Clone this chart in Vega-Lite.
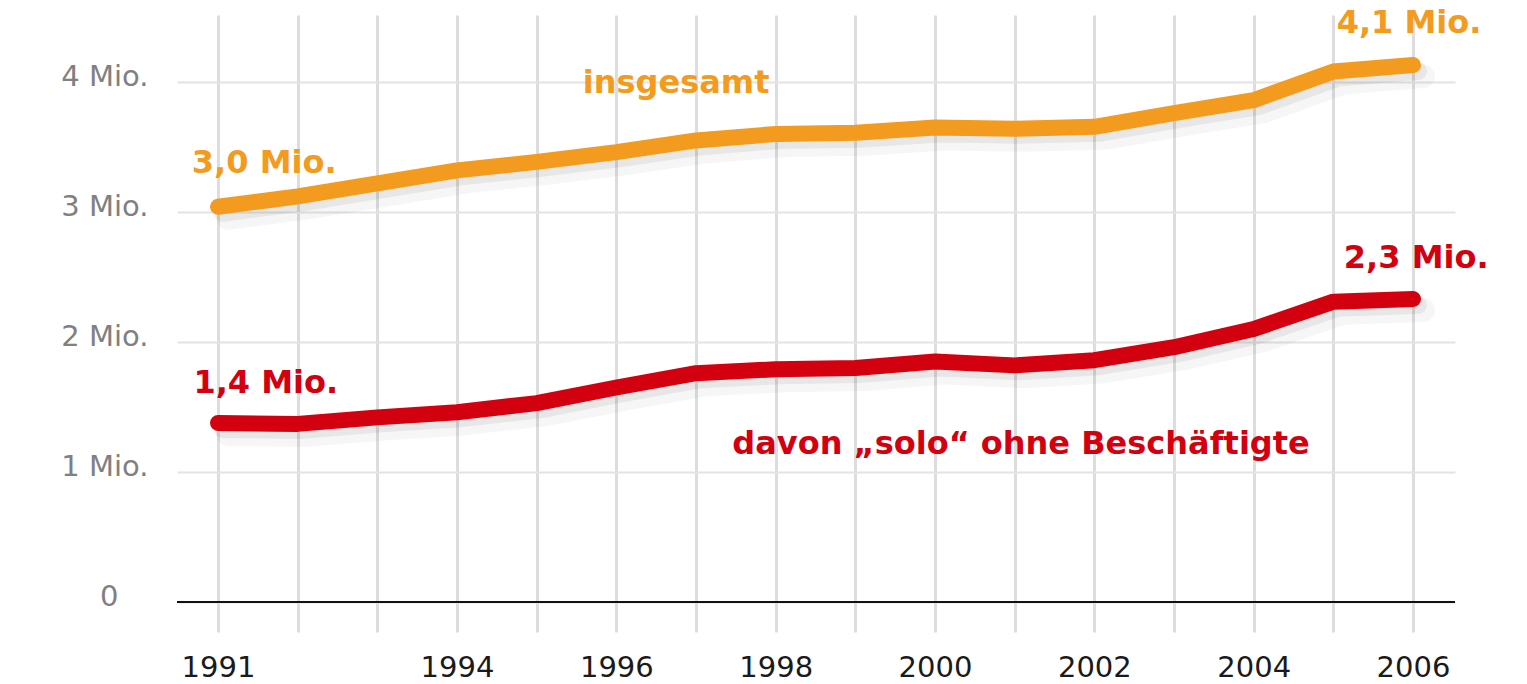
{
  "$schema": "https://vega.github.io/schema/vega-lite/v6.json",
  "width": 1278,
  "height": 617,
  "autosize": {"type": "none"},
  "padding": {"left": 177, "top": 15, "right": 72, "bottom": 52},
  "background": "#ffffff",
  "config": {
    "view": {"stroke": null},
    "axis": {"domain": false, "ticks": false, "tickSize": 0, "title": null}
  },
  "datasets": {
    "series": [
      {"year": 1991, "series": "insgesamt", "value": 3.04},
      {"year": 1992, "series": "insgesamt", "value": 3.12},
      {"year": 1993, "series": "insgesamt", "value": 3.22},
      {"year": 1994, "series": "insgesamt", "value": 3.32},
      {"year": 1995, "series": "insgesamt", "value": 3.385},
      {"year": 1996, "series": "insgesamt", "value": 3.46},
      {"year": 1997, "series": "insgesamt", "value": 3.55},
      {"year": 1998, "series": "insgesamt", "value": 3.6},
      {"year": 1999, "series": "insgesamt", "value": 3.61},
      {"year": 2000, "series": "insgesamt", "value": 3.65},
      {"year": 2001, "series": "insgesamt", "value": 3.64},
      {"year": 2002, "series": "insgesamt", "value": 3.655},
      {"year": 2003, "series": "insgesamt", "value": 3.76},
      {"year": 2004, "series": "insgesamt", "value": 3.86},
      {"year": 2005, "series": "insgesamt", "value": 4.08},
      {"year": 2006, "series": "insgesamt", "value": 4.13},
      {"year": 1991, "series": "solo", "value": 1.377},
      {"year": 1992, "series": "solo", "value": 1.37},
      {"year": 1993, "series": "solo", "value": 1.42},
      {"year": 1994, "series": "solo", "value": 1.46},
      {"year": 1995, "series": "solo", "value": 1.53},
      {"year": 1996, "series": "solo", "value": 1.65},
      {"year": 1997, "series": "solo", "value": 1.76},
      {"year": 1998, "series": "solo", "value": 1.79},
      {"year": 1999, "series": "solo", "value": 1.8},
      {"year": 2000, "series": "solo", "value": 1.85},
      {"year": 2001, "series": "solo", "value": 1.82},
      {"year": 2002, "series": "solo", "value": 1.86},
      {"year": 2003, "series": "solo", "value": 1.96},
      {"year": 2004, "series": "solo", "value": 2.1},
      {"year": 2005, "series": "solo", "value": 2.31},
      {"year": 2006, "series": "solo", "value": 2.33}
    ],
    "labels": [
      {"year": 1991.58, "value": 3.3, "text": "3,0 Mio.", "series": "insgesamt"},
      {"year": 1996.75, "value": 3.915, "text": "insgesamt", "series": "insgesamt"},
      {"year": 2005.95, "value": 4.377, "text": "4,1 Mio.", "series": "insgesamt"},
      {"year": 1991.6, "value": 1.608, "text": "1,4 Mio.", "series": "solo"},
      {"year": 2006.04, "value": 2.569, "text": "2,3 Mio.", "series": "solo"},
      {"year": 2001.08, "value": 1.138, "text": "davon „solo“ ohne Beschäftigte", "series": "solo"}
    ]
  },
  "layer": [
    {
      "data": {"name": "series"},
      "mark": {"type": "line", "stroke": "#000000", "strokeWidth": 24, "opacity": 0.035, "xOffset": 10, "yOffset": 11, "strokeCap": "round", "strokeJoin": "round"},
      "encoding": {
        "x": {"field": "year", "type": "quantitative", "scale": {"domain": [1990.485, 2006.527], "nice": false, "zero": false},
          "axis": {"values": [1991, 1992, 1993, 1994, 1995, 1996, 1997, 1998, 1999, 2000, 2001, 2002, 2003, 2004, 2005, 2006],
            "format": "d", "labelExpr": "datum.value == 1991 || (datum.value % 2 == 0 && datum.value != 1992) ? datum.label : ''",
            "grid": true, "gridColor": "#dddddd", "gridWidth": 3, "labelFont": "DejaVu Sans", "labelFontSize": 29,
            "labelColor": "#1a1a1a", "labelPadding": 21, "labelOverlap": false, "labelFlush": false}},
        "y": {"field": "value", "type": "quantitative", "scale": {"domain": [-0.2308, 4.515], "nice": false, "zero": false},
          "axis": {"values": [0, 1, 2, 3, 4], "labelExpr": "datum.value == 0 ? '0' : datum.value + ' Mio.'",
            "grid": true, "gridColor": "#e3e3e3", "gridWidth": 2, "labelFont": "DejaVu Sans", "labelFontSize": 29,
            "labelColor": "#808080", "labelAlign": "right", "labelBaseline": "alphabetic", "labelOffset": 4,
            "labelPadding": {"condition": {"test": "datum.value == 0", "value": 59}, "value": 29}}},
        "detail": {"field": "series", "type": "nominal"}
      }
    },
    {
      "data": {"name": "series"},
      "mark": {"type": "line", "stroke": "#000000", "strokeWidth": 18, "opacity": 0.06, "xOffset": 5, "yOffset": 6, "strokeCap": "round", "strokeJoin": "round"},
      "encoding": {
        "x": {"field": "year", "type": "quantitative"},
        "y": {"field": "value", "type": "quantitative"},
        "detail": {"field": "series", "type": "nominal"}
      }
    },
    {
      "data": {"values": [{}]},
      "mark": {"type": "rule", "color": "#111111", "strokeWidth": 2},
      "encoding": {
        "x": {"datum": 1990.485, "type": "quantitative"},
        "x2": {"datum": 2006.527},
        "y": {"datum": 0, "type": "quantitative"}
      }
    },
    {
      "data": {"name": "series"},
      "mark": {"type": "line", "strokeWidth": 16, "strokeCap": "round", "strokeJoin": "round"},
      "encoding": {
        "x": {"field": "year", "type": "quantitative"},
        "y": {"field": "value", "type": "quantitative"},
        "color": {"field": "series", "type": "nominal", "scale": {"domain": ["insgesamt", "solo"], "range": ["#f29b1e", "#d3000f"]}, "legend": null}
      }
    },
    {
      "data": {"name": "labels"},
      "mark": {"type": "text", "font": "DejaVu Sans", "fontWeight": "bold", "fontSize": 32, "align": "center", "baseline": "alphabetic"},
      "encoding": {
        "x": {"field": "year", "type": "quantitative"},
        "y": {"field": "value", "type": "quantitative"},
        "text": {"field": "text", "type": "nominal"},
        "color": {"field": "series", "type": "nominal", "legend": null}
      }
    }
  ]
}
